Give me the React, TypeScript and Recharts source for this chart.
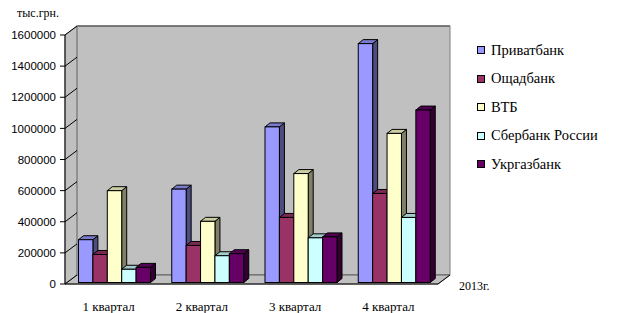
import { BarChart, Bar, XAxis, YAxis, CartesianGrid, Legend } from 'recharts'

const QUARTERS = ['1 квартал', '2 квартал', '3 квартал', '4 квартал']
const PRIVATBANK = [275000, 600000, 1000000, 1535000]
const OSCHADBANK = [180000, 238000, 418000, 572000]
const VTB = [590000, 393000, 700000, 958000]
const SBERBANK = [85000, 172000, 287000, 418000]
const UKRGAZBANK = [97000, 185000, 293000, 1108000]
const Y_TICKS = [0, 200000, 400000, 600000, 800000, 1000000, 1200000, 1400000, 1600000]

const SERIES = [
  { key: 'privat', name: 'Приватбанк', color: '#9999ff', values: PRIVATBANK },
  { key: 'oschad', name: 'Ощадбанк', color: '#993366', values: OSCHADBANK },
  { key: 'vtb', name: 'ВТБ', color: '#ffffcc', values: VTB },
  { key: 'sber', name: 'Сбербанк России', color: '#ccffff', values: SBERBANK },
  { key: 'ukrgaz', name: 'Укргазбанк', color: '#660066', values: UKRGAZBANK }
]

const data = QUARTERS.map((quarter, i) => {
  const row: Record<string, string | number> = { quarter }
  SERIES.forEach((s) => { row[s.key] = s.values[i] })
  return row
})

// layout of the fake 3D box
const W = 628
const H = 313
const FRONT_LEFT = 65
const FRONT_RIGHT = 438
const FRONT_TOP = 35
const FRONT_BOTTOM = 284
const DEPTH_X = 12
const DEPTH_Y = 9
const BAR_SHIFT_X = 2.5
const BAR_SHIFT_Y = 1.5
const BAR_DX = 5
const BAR_DY = 4
const SERIF = '"Liberation Serif", "Times New Roman", serif'
const SANS = '"Liberation Sans", Arial, sans-serif'

const shade = (hex: string, f: number) => {
  const n = parseInt(hex.slice(1), 16)
  const r = Math.round(((n >> 16) & 255) * f)
  const g = Math.round(((n >> 8) & 255) * f)
  const b = Math.round((n & 255) * f)
  return `rgb(${r},${g},${b})`
}

function Bar3D(props: any) {
  const { x, y, width, height, fill } = props
  if (!height || height <= 0) return null
  const side = `${x + width},${y} ${x + width + BAR_DX},${y - BAR_DY} ${x + width + BAR_DX},${y + height - BAR_DY} ${x + width},${y + height}`
  const top = `${x},${y} ${x + BAR_DX},${y - BAR_DY} ${x + width + BAR_DX},${y - BAR_DY} ${x + width},${y}`
  return (
    <g>
      <polygon points={side} fill={shade(fill, 0.5)} stroke="#000" strokeWidth={1} />
      <polygon points={top} fill={shade(fill, 0.8)} stroke="#000" strokeWidth={1} />
      <rect x={x} y={y} width={width} height={height} fill={fill} stroke="#000" strokeWidth={1} />
    </g>
  )
}

function renderYTick(props: any) {
  const { y, payload } = props
  const ty = y + BAR_SHIFT_Y
  return (
    <g>
      <line x1={FRONT_LEFT - 5} y1={ty} x2={FRONT_LEFT} y2={ty} stroke="#000" />
      <line x1={FRONT_LEFT} y1={ty} x2={FRONT_LEFT + DEPTH_X} y2={ty - DEPTH_Y} stroke="#000" />
      <text x={FRONT_LEFT - 9} y={ty} dy="0.36em" textAnchor="end" fontFamily={SANS} fontSize={11.5} fill="#000">
        {payload.value}
      </text>
    </g>
  )
}

function renderXTick(props: any) {
  const { x, payload } = props
  return (
    <text x={x - 5.5} y={FRONT_BOTTOM + 27} textAnchor="middle" fontFamily={SERIF} fontSize={13} fill="#000">
      {payload.value}
    </text>
  )
}

function renderLegend(props: any) {
  const order = (v: string) => SERIES.findIndex((s) => s.name === v)
  const items = [...(props.payload || [])].sort((a: any, b: any) => order(a.value) - order(b.value))
  return (
    <div style={{ fontFamily: SERIF, fontSize: 14.5, color: '#000' }}>
      {items.map((entry: any) => (
        <div key={entry.value} style={{ display: 'flex', alignItems: 'center', height: 28.5, whiteSpace: 'nowrap' }}>
          <span style={{ width: 6, height: 6, border: '1px solid #000', background: entry.color, marginRight: 6, flex: 'none' }} />
          <span>{entry.value}</span>
        </div>
      ))}
    </div>
  )
}

export default function App() {
  const backRight = FRONT_RIGHT + DEPTH_X
  const backTop = FRONT_TOP - DEPTH_Y
  const backBottom = FRONT_BOTTOM - DEPTH_Y
  return (
    <div style={{ position: 'absolute', left: 0, top: 0, width: W, height: H, background: '#fff' }}>
      {/* back wall with gridlines */}
      <div style={{ position: 'absolute', left: 0, top: 0 }}>
        <BarChart
          width={W}
          height={H}
          data={data}
          margin={{ top: backTop, bottom: H - backBottom, left: FRONT_LEFT + DEPTH_X, right: W - backRight }}
        >
          <CartesianGrid vertical={false} stroke="#000" fill="#c0c0c0" fillOpacity={1} />
          <XAxis dataKey="quarter" hide />
          <YAxis hide domain={[0, 1600000]} ticks={Y_TICKS.slice(0, -1)} />
        </BarChart>
      </div>

      {/* side wall, floor, captions */}
      <svg width={W} height={H} style={{ position: 'absolute', left: 0, top: 0 }}>
        <polygon
          points={`${FRONT_LEFT},${FRONT_TOP} ${FRONT_LEFT + DEPTH_X},${backTop} ${FRONT_LEFT + DEPTH_X},${backBottom} ${FRONT_LEFT},${FRONT_BOTTOM}`}
          fill="#c0c0c0"
          stroke="#808080"
        />
        <polygon
          points={`${FRONT_LEFT},${FRONT_BOTTOM} ${FRONT_LEFT + DEPTH_X},${backBottom} ${backRight},${backBottom} ${FRONT_RIGHT},${FRONT_BOTTOM}`}
          fill="#c0c0c0"
          stroke="#808080"
        />
        <rect x={FRONT_LEFT + DEPTH_X} y={backTop} width={backRight - FRONT_LEFT - DEPTH_X} height={backBottom - backTop} fill="none" stroke="#808080" />
        <line x1={FRONT_LEFT} y1={FRONT_TOP} x2={FRONT_LEFT} y2={FRONT_BOTTOM} stroke="#000" />
        <line x1={FRONT_LEFT} y1={FRONT_BOTTOM} x2={FRONT_RIGHT} y2={FRONT_BOTTOM} stroke="#000" />
        <line x1={FRONT_RIGHT} y1={FRONT_BOTTOM} x2={backRight} y2={backBottom} stroke="#000" />
        <text x={17} y={17} fontFamily={SERIF} fontSize={12} fill="#000">тыс.грн.</text>
        <text x={459} y={290} fontFamily={SERIF} fontSize={12} fill="#000">2013г.</text>
      </svg>

      {/* bars and axes */}
      <div style={{ position: 'absolute', left: 0, top: 0 }}>
        <BarChart
          width={W}
          height={H}
          data={data}
          barGap={0}
          margin={{ top: FRONT_TOP - BAR_SHIFT_Y, bottom: 0, left: 0, right: W - (FRONT_RIGHT + BAR_SHIFT_X) }}
        >
          <XAxis
            dataKey="quarter"
            axisLine={false}
            tickLine={false}
            height={H - (FRONT_BOTTOM - BAR_SHIFT_Y)}
            padding={{ left: BAR_SHIFT_X, right: 0 }}
            interval={0}
            tick={renderXTick}
          />
          <YAxis
            width={FRONT_LEFT}
            domain={[0, 1600000]}
            ticks={Y_TICKS}
            interval={0}
            axisLine={false}
            tickLine={false}
            tick={renderYTick}
          />
          <Legend
            layout="vertical"
            align="center"
            verticalAlign="middle"
            wrapperStyle={{ left: 477, top: 36, width: 150, height: 'auto' }}
            content={renderLegend}
          />
          {SERIES.map((s) => (
            <Bar
              key={s.key}
              dataKey={s.key}
              name={s.name}
              fill={s.color}
              barSize={14.4}
              shape={Bar3D}
              isAnimationActive={false}
            />
          ))}
        </BarChart>
      </div>
    </div>
  )
}
